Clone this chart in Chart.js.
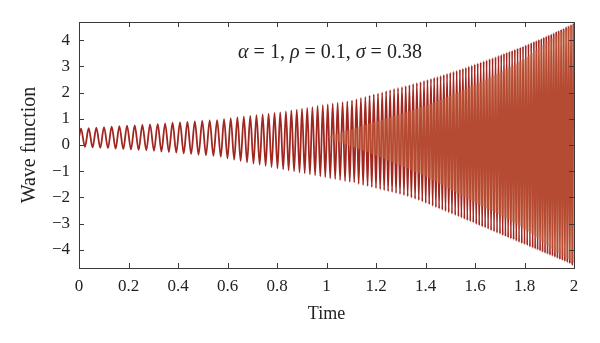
<!DOCTYPE html>
<html>
<head>
<meta charset="utf-8">
<script src="https://cdn.jsdelivr.net/npm/chart.js@4"></script>
<style>
  body { margin: 0; background: #fff; }
  #wrap { width: 600px; height: 343px; }
</style>
</head>
<body>
<div id="wrap"><canvas id="waveChart" width="600" height="343"></canvas></div>
<script>
// crest / trough positions of the wave (time, amplitude)
const startPoint = [0, 0.30];

const peakTimes = [
  0.008, 0.039, 0.070, 0.101, 0.132, 0.163, 0.194, 0.225, 0.256, 0.287,
  0.318, 0.348, 0.378, 0.408, 0.438, 0.468, 0.498, 0.528, 0.558,
  0.586, 0.613, 0.640, 0.666, 0.692, 0.717, 0.742, 0.766, 0.790, 0.813, 0.836,
  0.858, 0.880, 0.901, 0.922, 0.943, 0.964, 0.985, 1.005, 1.025, 1.045, 1.065, 1.084, 1.103,
  1.121, 1.139, 1.157, 1.174, 1.191, 1.208, 1.225, 1.241, 1.257, 1.273, 1.289, 1.305, 1.320, 1.335, 1.350, 1.365, 1.380,
  1.394, 1.408, 1.422, 1.435, 1.448, 1.461, 1.474, 1.487, 1.500, 1.513, 1.526, 1.539, 1.551, 1.563, 1.575, 1.587, 1.599, 1.611, 1.623, 1.635, 1.647,
  1.659, 1.671, 1.683, 1.695, 1.706, 1.717, 1.728, 1.739, 1.750, 1.761, 1.772, 1.783, 1.794, 1.805, 1.816, 1.827, 1.838,
  1.848, 1.858, 1.868, 1.878, 1.888, 1.898, 1.908, 1.918, 1.928, 1.938, 1.948, 1.958, 1.968, 1.978, 1.988, 1.998
];
const peakValues = [
  0.62, 0.64, 0.66, 0.68, 0.70, 0.72, 0.74, 0.75, 0.77, 0.79,
  0.81, 0.83, 0.85, 0.86, 0.88, 0.90, 0.92, 0.94, 0.95,
  0.99, 1.02, 1.05, 1.08, 1.11, 1.14, 1.17, 1.20, 1.23, 1.25, 1.28,
  1.32, 1.35, 1.39, 1.42, 1.45, 1.49, 1.52, 1.55, 1.58, 1.61, 1.64, 1.67, 1.70,
  1.75, 1.80, 1.84, 1.89, 1.93, 1.97, 2.01, 2.06, 2.10, 2.14, 2.18, 2.22, 2.25, 2.29, 2.33, 2.37, 2.41,
  2.45, 2.49, 2.53, 2.57, 2.60, 2.64, 2.68, 2.72, 2.76, 2.80, 2.84, 2.88, 2.92, 2.96, 3.00, 3.04, 3.08, 3.12, 3.16, 3.20, 3.24,
  3.28, 3.32, 3.36, 3.41, 3.45, 3.49, 3.53, 3.57, 3.61, 3.65, 3.69, 3.73, 3.77, 3.82, 3.86, 3.90, 3.95,
  3.99, 4.03, 4.07, 4.11, 4.16, 4.20, 4.24, 4.28, 4.33, 4.37, 4.42, 4.46, 4.51, 4.55, 4.60, 4.64
];

const troughTimes = [
  0.024, 0.055, 0.086, 0.117, 0.148, 0.179, 0.210, 0.241, 0.272, 0.303,
  0.333, 0.363, 0.393, 0.423, 0.453, 0.483, 0.513, 0.543, 0.573,
  0.600, 0.627, 0.653, 0.679, 0.705, 0.730, 0.754, 0.778, 0.802, 0.825, 0.847,
  0.869, 0.891, 0.912, 0.933, 0.954, 0.975, 0.995, 1.015, 1.035, 1.055, 1.075, 1.094, 1.112,
  1.130, 1.148, 1.166, 1.183, 1.200, 1.217, 1.233, 1.249, 1.265, 1.281, 1.297, 1.313, 1.328, 1.343, 1.358, 1.373, 1.387,
  1.401, 1.415, 1.429, 1.442, 1.455, 1.468, 1.481, 1.494, 1.507, 1.520, 1.533, 1.545, 1.557, 1.569, 1.581, 1.593, 1.605, 1.617, 1.629, 1.641, 1.653,
  1.665, 1.677, 1.689, 1.701, 1.712, 1.723, 1.734, 1.745, 1.756, 1.767, 1.778, 1.789, 1.800, 1.811, 1.822, 1.833,
  1.843, 1.853, 1.863, 1.873, 1.883, 1.893, 1.903, 1.913, 1.923, 1.933, 1.943, 1.953, 1.963, 1.973, 1.983, 1.993
];
const troughValues = [
  -0.07, -0.09, -0.11, -0.12, -0.14, -0.16, -0.17, -0.19, -0.20, -0.22,
  -0.25, -0.27, -0.29, -0.32, -0.34, -0.37, -0.39, -0.41, -0.45,
  -0.51, -0.56, -0.61, -0.66, -0.71, -0.75, -0.80, -0.84, -0.89, -0.93, -0.97,
  -1.01, -1.05, -1.08, -1.12, -1.16, -1.20, -1.23, -1.27, -1.30, -1.34, -1.38, -1.41, -1.43,
  -1.49, -1.53, -1.57, -1.61, -1.65, -1.69, -1.73, -1.77, -1.80, -1.84, -1.88, -1.92, -1.96, -2.01, -2.06, -2.11, -2.16,
  -2.22, -2.27, -2.33, -2.38, -2.43, -2.48, -2.53, -2.58, -2.63, -2.68, -2.73, -2.78, -2.83, -2.88, -2.92, -2.97, -3.02, -3.07, -3.12, -3.16, -3.21,
  -3.26, -3.31, -3.36, -3.40, -3.45, -3.49, -3.54, -3.58, -3.62, -3.67, -3.71, -3.76, -3.80, -3.84, -3.89, -3.93,
  -3.97, -4.01, -4.05, -4.09, -4.13, -4.17, -4.21, -4.25, -4.29, -4.33, -4.37, -4.41, -4.45, -4.49, -4.53, -4.57
];

// solid core where the fast oscillation smears together
const bandTimes  = [1.00, 1.20, 1.40, 1.60, 1.80, 1.90, 2.00];
const bandTop    = [0.30, 0.90, 1.50, 2.30, 3.30, 4.00, 4.60];
const bandBottom = [0.30, -0.40, -1.20, -2.20, -3.20, -3.90, -4.50];

const xTickValues = [0, 0.2, 0.4, 0.6, 0.8, 1, 1.2, 1.4, 1.6, 1.8, 2];
const xTickLabels = ['0', '0.2', '0.4', '0.6', '0.8', '1', '1.2', '1.4', '1.6', '1.8', '2'];
const yTickValues = [-4, -3, -2, -1, 0, 1, 2, 3, 4];
const yTickLabels = ['\u22124', '\u22123', '\u22122', '\u22121', '0', '1', '2', '3', '4'];

const FONT = '"Liberation Serif", "DejaVu Serif", serif';
const LINE_RED = 'rgb(160, 38, 32)';
const CORE_ORANGE = 'rgba(200, 105, 68, 0.55)';

// merge crests and troughs into one time-ordered trace
let wave = [{x: startPoint[0], y: startPoint[1]}];
peakTimes.forEach((t, i) => wave.push({x: t, y: peakValues[i]}));
troughTimes.forEach((t, i) => wave.push({x: t, y: troughValues[i]}));
wave.sort((a, b) => a.x - b.x);

const coreTop = bandTimes.map((t, i) => ({x: t, y: bandTop[i]}));
const coreBottom = bandTimes.map((t, i) => ({x: t, y: bandBottom[i]}));

// frame with inward tick marks on all four sides
const boxTicks = {
  id: 'boxTicks',
  afterDatasetsDraw(chart) {
    const {ctx, chartArea: a, scales} = chart;
    const len = 5;
    ctx.save();
    ctx.strokeStyle = '#3a3a3a';
    ctx.lineWidth = 1;
    ctx.beginPath();
    xTickValues.forEach(v => {
      const px = Math.round(scales.x.getPixelForValue(v)) + 0.5;
      ctx.moveTo(px, a.bottom); ctx.lineTo(px, a.bottom - len);
      ctx.moveTo(px, a.top); ctx.lineTo(px, a.top + len);
    });
    yTickValues.forEach(v => {
      const py = Math.round(scales.y.getPixelForValue(v)) + 0.5;
      ctx.moveTo(a.left, py); ctx.lineTo(a.left + len, py);
      ctx.moveTo(a.right, py); ctx.lineTo(a.right - len, py);
    });
    ctx.stroke();
    ctx.strokeRect(Math.round(a.left) + 0.5, Math.round(a.top) + 0.5,
      Math.round(a.right - a.left), Math.round(a.bottom - a.top));
    ctx.restore();
  }
};

// parameter note, greek symbols in italic
const paramNote = {
  id: 'paramNote',
  afterDraw(chart) {
    const {ctx} = chart;
    const parts = [
      ['\u03b1', true], [' = 1, ', false],
      ['\u03c1', true], [' = 0.1, ', false],
      ['\u03c3', true], [' = 0.38', false]
    ];
    const upright = '20px ' + FONT;
    const italic = 'italic 20px ' + FONT;
    ctx.save();
    let total = 0;
    parts.forEach(([s, it]) => { ctx.font = it ? italic : upright; total += ctx.measureText(s).width; });
    let x = 330 - total / 2;
    ctx.fillStyle = '#222';
    ctx.textBaseline = 'alphabetic';
    parts.forEach(([s, it]) => {
      ctx.font = it ? italic : upright;
      ctx.fillText(s, x, 58);
      x += ctx.measureText(s).width;
    });
    ctx.restore();
  }
};

new Chart(document.getElementById('waveChart').getContext('2d'), {
  type: 'line',
  data: {
    datasets: [
      {
        data: wave,
        borderColor: LINE_RED,
        borderWidth: 1.8,
        pointRadius: 0,
        cubicInterpolationMode: 'monotone',
        fill: false,
        order: 2
      },
      {
        data: coreTop,
        borderWidth: 0,
        pointRadius: 0,
        backgroundColor: CORE_ORANGE,
        cubicInterpolationMode: 'monotone',
        fill: '+1',
        order: 1
      },
      {
        data: coreBottom,
        borderWidth: 0,
        pointRadius: 0,
        cubicInterpolationMode: 'monotone',
        fill: false,
        order: 1
      }
    ]
  },
  options: {
    responsive: false,
    animation: false,
    layout: { padding: { top: 22, right: 26, left: 0, bottom: 0 } },
    plugins: { legend: { display: false }, tooltip: { enabled: false } },
    scales: {
      x: {
        type: 'linear',
        min: 0,
        max: 2,
        grid: { display: false, drawTicks: false },
        border: { display: false },
        afterBuildTicks: s => { s.ticks = xTickValues.map(v => ({value: v})); },
        afterFit: s => { s.height = 75; },
        ticks: {
          padding: 8,
          color: '#222',
          font: { family: FONT, size: 17 },
          maxRotation: 0,
          autoSkip: false,
          callback: (v, i) => xTickLabels[i]
        },
        title: {
          display: true,
          text: 'Time',
          color: '#222',
          font: { family: FONT, size: 18 },
          padding: { top: 0, bottom: 18 }
        }
      },
      y: {
        min: -4.7,
        max: 4.7,
        grid: { display: false, drawTicks: false },
        border: { display: false },
        afterBuildTicks: s => { s.ticks = yTickValues.map(v => ({value: v})); },
        afterFit: s => { s.width = 79; },
        ticks: {
          padding: 9,
          color: '#222',
          font: { family: FONT, size: 17 },
          autoSkip: false,
          callback: (v, i) => yTickLabels[i]
        },
        title: {
          display: true,
          text: 'Wave function',
          color: '#222',
          font: { family: FONT, size: 20 },
          padding: { top: 18, bottom: 0 }
        }
      }
    }
  },
  plugins: [boxTicks, paramNote]
});
</script>
</body>
</html>
